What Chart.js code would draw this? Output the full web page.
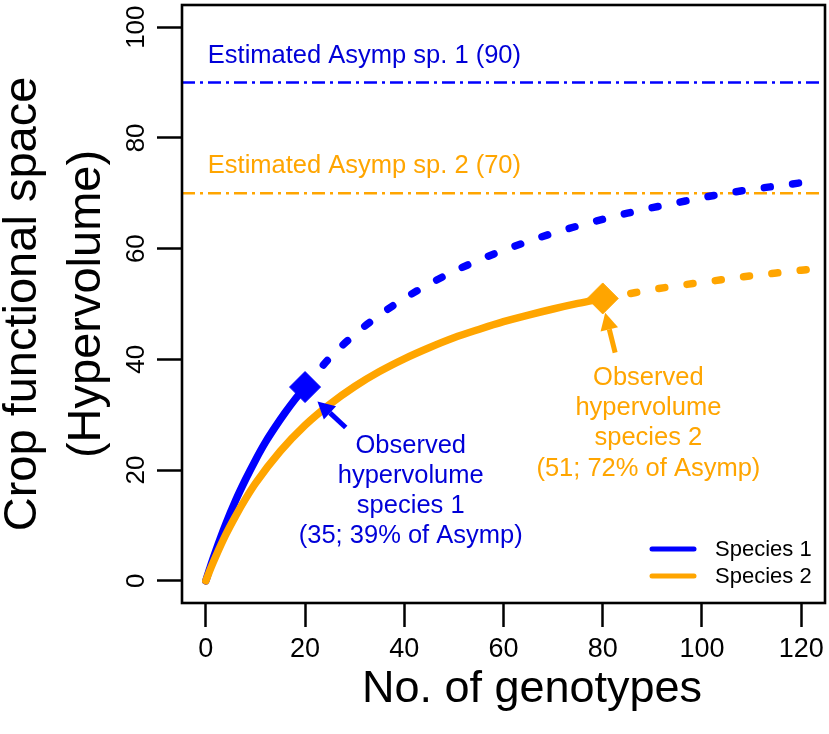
<!DOCTYPE html>
<html>
<head>
<meta charset="utf-8">
<title>Crop functional space</title>
<script src="https://cdn.jsdelivr.net/npm/chart.js@4.4.1/dist/chart.umd.min.js"></script>
<style>
    html, body { margin: 0; padding: 0; background: #ffffff; overflow: hidden; }
    #wrap { width: 829px; height: 734px; }
    canvas { display: block; }
</style>
</head>
<body>
<div id="wrap"><canvas id="curveChart" width="829" height="734"></canvas></div>
<script>

/* ==========================================
   DATA
========================================== */

// species 1: observed part (solid) and extrapolated part (dashed)
const genotypes1Obs = [0, 1, 2, 4, 6, 8, 10, 12, 14, 16, 18, 20];
const hyper1Obs = [0, 2.8, 5.4, 10.2, 14.5, 18.3, 21.8, 25.0, 27.8, 30.4, 32.8, 35.0];

const genotypes1Ext = [20, 25, 30, 35, 40, 45, 50, 55, 60, 65, 70, 75, 80, 85, 90, 95, 100, 105, 110, 115, 120, 123];
const hyper1Ext = [35.0, 40.3, 44.5, 48.0, 51.0, 53.6, 55.9, 57.9, 59.7, 61.3, 62.8, 64.1, 65.3, 66.4, 67.4, 68.3, 69.2, 70.0, 70.7, 71.3, 71.9, 72.3];

// species 2
const genotypes2Obs = [0, 1, 2, 4, 6, 8, 10, 15, 20, 25, 30, 35, 40, 45, 50, 55, 60, 65, 70, 75, 80];
const hyper2Obs = [0, 2.3, 4.4, 8.3, 11.7, 14.8, 17.6, 23.4, 28.1, 31.9, 35.1, 37.8, 40.1, 42.1, 43.9, 45.4, 46.8, 48.0, 49.1, 50.1, 51.0];

const genotypes2Ext = [80, 85, 90, 95, 100, 105, 110, 115, 120, 123];
const hyper2Ext = [51.0, 51.8, 52.6, 53.3, 53.9, 54.5, 55.1, 55.6, 56.1, 56.4];

// observed hypervolume points and estimated asymptotes
const obsGenotypes = [20, 80];
const obsHyper = [35, 51];
const asympValues = [90, 70];

const speciesNames = ["Species 1", "Species 2"];
const asympLabels = ["Estimated Asymp sp. 1 (90)", "Estimated Asymp sp. 2 (70)"];
const obsLabels = [
    ["Observed", "hypervolume", "species 1", "(35; 39% of Asymp)"],
    ["Observed", "hypervolume", "species 2", "(51; 72% of Asymp)"]
];

const xTicks = [0, 20, 40, 60, 80, 100, 120];
const yTicks = [0, 20, 40, 60, 80, 100];


/* ==========================================
   STYLE
========================================== */

const BLUE = "#0000ff";
const BLUE_TEXT = "#0000d8";
const ORANGE = "#ffa500";
const FONT = "'Liberation Sans', Arial, Helvetica, sans-serif";

const X_MIN = -4.8, X_MAX = 124.8;
const Y_MIN = -4, Y_MAX = 104;

function toPoints(xs, ys){
    return xs.map((x, i) => ({ x: x, y: ys[i] }));
}

// keep the plot box exactly where the axes say, no label overflow padding
function noPadding(s){
    s.paddingLeft = 0;
    s.paddingRight = 0;
    s.paddingTop = 0;
    s.paddingBottom = 0;
}


/* ==========================================
   DATASETS (first = drawn on top)
========================================== */

const curveStyle = {
    pointRadius: 0,
    borderWidth: 7.5,
    cubicInterpolationMode: "monotone",
    borderCapStyle: "round",
    borderJoinStyle: "round",
    fill: false
};

const datasets = [
    {
        label: "observed",
        type: "scatter",
        data: toPoints(obsGenotypes, obsHyper),
        pointStyle: "rectRot",
        pointRadius: 15.5,
        pointBackgroundColor: [BLUE, ORANGE],
        pointBorderColor: [BLUE, ORANGE],
        pointBorderWidth: 1,
        showLine: false
    },
    Object.assign({ label: speciesNames[1], data: toPoints(genotypes2Obs, hyper2Obs), borderColor: ORANGE }, curveStyle),
    Object.assign({ label: speciesNames[1] + " ext", data: toPoints(genotypes2Ext, hyper2Ext), borderColor: ORANGE, borderDash: [6, 22.5] }, curveStyle),
    Object.assign({ label: speciesNames[0] + " ext", data: toPoints(genotypes1Ext, hyper1Ext), borderColor: BLUE, borderDash: [6, 22.5] }, curveStyle),
    Object.assign({ label: speciesNames[0], data: toPoints(genotypes1Obs, hyper1Obs), borderColor: BLUE }, curveStyle)
];

asympValues.forEach((v, i) => {
    datasets.push({
        label: asympLabels[i],
        data: [{ x: X_MIN, y: v }, { x: X_MAX, y: v }],
        borderColor: i === 0 ? BLUE : ORANGE,
        borderWidth: 2.5,
        borderDash: [13, 5, 3, 5],
        pointRadius: 0,
        fill: false
    });
});


/* ==========================================
   DECORATION PLUGIN
   box, rotated y labels, titles, notes,
   arrows and legend
========================================== */

function drawArrow(ctx, x0, y0, x1, y1, color){
    const ang = Math.atan2(y1 - y0, x1 - x0);
    const headLen = 17, headW = 9;
    const bx = x1 - Math.cos(ang) * headLen;
    const by = y1 - Math.sin(ang) * headLen;
    ctx.strokeStyle = color;
    ctx.fillStyle = color;
    ctx.lineWidth = 5;
    ctx.lineCap = "butt";
    ctx.beginPath();
    ctx.moveTo(x0, y0);
    ctx.lineTo(bx, by);
    ctx.stroke();
    ctx.beginPath();
    ctx.moveTo(x1, y1);
    ctx.lineTo(bx + Math.sin(ang) * headW, by - Math.cos(ang) * headW);
    ctx.lineTo(bx - Math.sin(ang) * headW, by + Math.cos(ang) * headW);
    ctx.closePath();
    ctx.fill();
}

const decorPlugin = {
    id: "decor",
    afterDraw(chart){
        const ctx = chart.ctx;
        const area = chart.chartArea;
        const xs = chart.scales.x;
        const ys = chart.scales.y;

        ctx.save();

        // plot box
        ctx.strokeStyle = "#000";
        ctx.lineWidth = 2.6;
        ctx.strokeRect(area.left, area.top, area.right - area.left, area.bottom - area.top);

        // y tick labels, rotated like R
        ctx.fillStyle = "#000";
        ctx.font = "26px " + FONT;
        ctx.textAlign = "center";
        ctx.textBaseline = "alphabetic";
        yTicks.forEach(v => {
            ctx.save();
            ctx.translate(area.left - 38, ys.getPixelForValue(v));
            ctx.rotate(-Math.PI / 2);
            ctx.fillText(String(v), 0, 0);
            ctx.restore();
        });

        // axis titles
        ctx.font = "45px " + FONT;
        ctx.textBaseline = "alphabetic";
        ctx.fillText("No. of genotypes", 532, 702);

        ctx.font = "47px " + FONT;
        const midY = (area.top + area.bottom) / 2;
        ctx.save();
        ctx.translate(36, midY);
        ctx.rotate(-Math.PI / 2);
        ctx.fillText("Crop functional space", 0, 0);
        ctx.restore();
        ctx.save();
        ctx.translate(100, midY);
        ctx.rotate(-Math.PI / 2);
        ctx.fillText("(Hypervolume)", 0, 0);
        ctx.restore();

        // asymptote labels
        ctx.font = "25.5px " + FONT;
        ctx.textAlign = "left";
        ctx.textBaseline = "middle";
        asympValues.forEach((v, i) => {
            ctx.fillStyle = i === 0 ? BLUE_TEXT : ORANGE;
            ctx.fillText(asympLabels[i], xs.getPixelForValue(0.4), ys.getPixelForValue(v) - 27);
        });

        // observed notes (anchored in data units)
        const noteAnchors = [{ x: 41.3, y: 24.45 }, { x: 89.2, y: 36.7 }];
        ctx.textAlign = "center";
        obsLabels.forEach((lines, i) => {
            ctx.fillStyle = i === 0 ? BLUE_TEXT : ORANGE;
            const cx = xs.getPixelForValue(noteAnchors[i].x);
            const cy = ys.getPixelForValue(noteAnchors[i].y);
            lines.forEach((t, k) => ctx.fillText(t, cx, cy + k * 30.3));
        });

        // arrows pointing at the observed points
        drawArrow(ctx, xs.getPixelForValue(28.2), ys.getPixelForValue(27.7),
            xs.getPixelForValue(22.5), ys.getPixelForValue(32.4), BLUE);
        drawArrow(ctx, xs.getPixelForValue(82.5), ys.getPixelForValue(41.2),
            xs.getPixelForValue(80.5), ys.getPixelForValue(48.4), ORANGE);

        // legend, bottom right inside the box
        ctx.font = "22px " + FONT;
        ctx.textAlign = "left";
        ctx.textBaseline = "middle";
        [BLUE, ORANGE].forEach((c, i) => {
            const y = area.bottom - 54 + i * 27;
            ctx.strokeStyle = c;
            ctx.lineWidth = 5;
            ctx.lineCap = "round";
            ctx.beginPath();
            ctx.moveTo(area.right - 173, y);
            ctx.lineTo(area.right - 131, y);
            ctx.stroke();
            ctx.fillStyle = "#000";
            ctx.fillText(speciesNames[i], area.right - 110, y + 1);
        });

        ctx.restore();
    }
};


/* ==========================================
   CHART
========================================== */

const ctx = document.getElementById("curveChart").getContext("2d");

const curveChart = new Chart(ctx, {
    type: "line",
    data: { datasets },
    plugins: [decorPlugin],
    options: {
        responsive: false,
        animation: false,
        devicePixelRatio: 1,
        layout: {
            autoPadding: false,
            padding: { top: 5, right: 4, left: 0, bottom: 0 }
        },
        plugins: {
            legend: { display: false },
            tooltip: { enabled: false }
        },
        scales: {
            x: {
                type: "linear",
                min: X_MIN,
                max: X_MAX,
                afterBuildTicks: s => { s.ticks = xTicks.map(v => ({ value: v })); },
                afterFit: s => { s.height = 131; noPadding(s); },
                ticks: {
                    color: "#000",
                    font: { family: FONT, size: 27 },
                    padding: 6,
                    maxRotation: 0,
                    autoSkip: false
                },
                grid: {
                    drawOnChartArea: false,
                    drawTicks: true,
                    tickLength: 24,
                    tickColor: "#000",
                    tickWidth: 2.5
                },
                border: { display: false }
            },
            y: {
                type: "linear",
                min: Y_MIN,
                max: Y_MAX,
                afterBuildTicks: s => { s.ticks = yTicks.map(v => ({ value: v })); },
                afterFit: s => { s.width = 182; noPadding(s); },
                ticks: { display: false },
                grid: {
                    drawOnChartArea: false,
                    drawTicks: true,
                    tickLength: 25,
                    tickColor: "#000",
                    tickWidth: 2.5
                },
                border: { display: false }
            }
        }
    }
});

</script>
</body>
</html>
